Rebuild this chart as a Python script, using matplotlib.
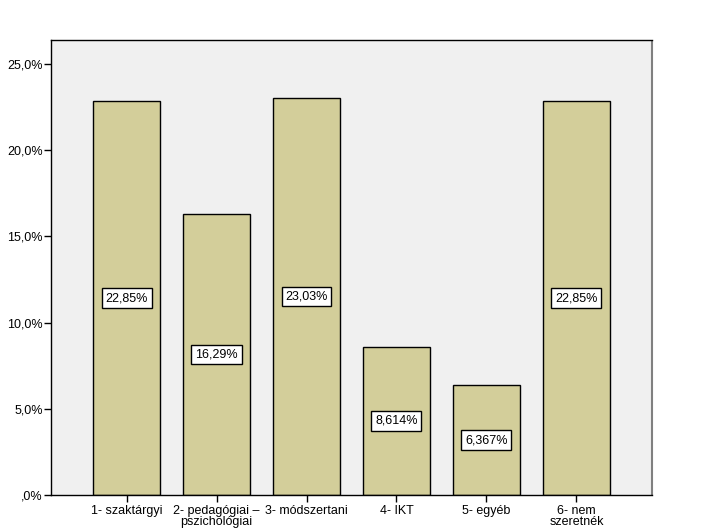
import matplotlib
matplotlib.use("Agg")
import matplotlib.pyplot as plt

categories = ["1- szaktárgyi", "2- pedagógiai –\npszichológiai", "3- módszertani",
              "4- IKT", "5- egyéb", "6- nem\nszeretnék"]
values = [22.85, 16.29, 23.03, 8.614, 6.367, 22.85]
value_labels = ["22,85%", "16,29%", "23,03%", "8,614%", "6,367%", "22,85%"]
yticks = [0, 5, 10, 15, 20, 25]
ytick_labels = [",0%", "5,0%", "10,0%", "15,0%", "20,0%", "25,0%"]

plt.rcParams['font.family'] = ['Liberation Sans', 'DejaVu Sans']

fig = plt.figure(figsize=(7.02, 5.30), dpi=100)
ax = fig.add_axes([51/702, 1 - 495/530, (652-51)/702, (495-40)/530])
ax.set_facecolor("#f0f0f0")

x = list(range(len(categories)))
ax.bar(x, values, width=0.75, color="#d3ce9a", edgecolor="black", linewidth=1.0, zorder=2)

for xi, v, lab in zip(x, values, value_labels):
    ax.text(xi, v / 2, lab, ha="center", va="center", fontsize=9, zorder=3,
            bbox=dict(boxstyle="square,pad=0.3", facecolor="white", edgecolor="black", linewidth=1.0))

ax.set_xlim(-0.84, 5.84)
ax.set_ylim(0, 26.4)
ax.set_yticks(yticks)
ax.set_yticklabels(ytick_labels)
ax.set_xticks(x)
ax.set_xticklabels(categories, linespacing=0.9)
ax.tick_params(axis="both", direction="out", length=5, width=1, labelsize=9, colors="black")
ax.tick_params(axis="y", pad=1)
ax.tick_params(axis="x", pad=2)

for side in ["left", "bottom", "top"]:
    ax.spines[side].set_color("black")
    ax.spines[side].set_linewidth(1.0)
ax.spines["right"].set_color("#808080")
ax.spines["right"].set_linewidth(1.5)
ax.spines["right"].set_capstyle("butt")

fig.savefig("out.png", dpi=100)
